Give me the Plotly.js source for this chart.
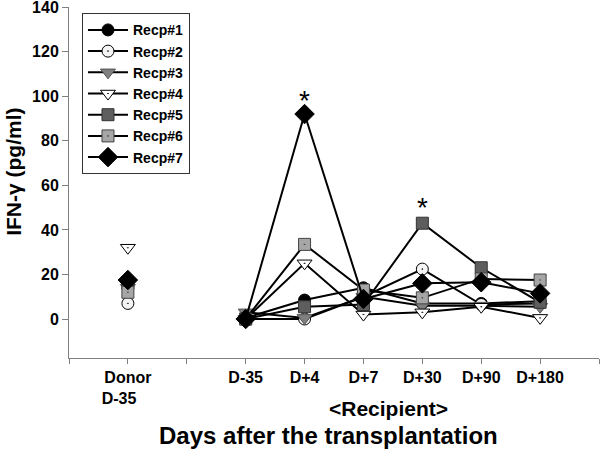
<!DOCTYPE html>
<html>
<head>
<meta charset="utf-8">
<script src="https://cdn.plot.ly/plotly-3.0.1.min.js"></script>
<style>
  html, body { margin: 0; padding: 0; background: white; }
  #chart { width: 600px; height: 449px; }
</style>
</head>
<body>
<div id="chart"></div>
<script>
// x positions on the axis: donor column, then recipient days
var donorPos = 1;
var recipPos = [3, 4, 5, 6, 7, 8];
var tickPos = [0, 1, 2, 3, 4, 5, 6, 7, 8, 9];
var tickText = ['', 'Donor<br>D-35&nbsp;&nbsp;&nbsp;&nbsp;', '', 'D-35', 'D+4', 'D+7', 'D+30', 'D+90', 'D+180', ''];

var names = ['Recp#1', 'Recp#2', 'Recp#3', 'Recp#4', 'Recp#5', 'Recp#6', 'Recp#7'];

// IFN-gamma (pg/ml), donor value at D-35
var donorVals = [17, 7, 14, 32, 16, 12, 17.5];

// recipient values at D-35, D+4, D+7, D+30, D+90, D+180
var recp1 = [0.5, 8.5, 14, 7, 7, 8];
var recp2 = [0, 0, 10, 22.4, 6.5, 7];
var recp3 = [3, 0.5, 10, 6, 6, 5.5];
var recp4 = [0, 25, 2, 3, 5.5, 0.5];
var recp5 = [0, 5.5, 6.5, 43, 23, 7.5];
var recp6 = [0, 33.5, 13, 9.5, 18, 17.5];
var recp7 = [0, 92, 9, 16, 16.5, 11.5];
var series = [recp1, recp2, recp3, recp4, recp5, recp6, recp7];

// significance marks
var starPos = [4, 6];
var starVals = [98, 50];

var styles = [
  {symbol: 'circle', color: '#000000', line: '#000000', size: 12},
  {symbol: 'circle-dot', color: '#f4f4f4', line: '#000000', size: 12},
  {symbol: 'triangle-down', color: '#7f7f7f', line: '#555555', size: 13},
  {symbol: 'triangle-down-dot', color: '#ffffff', line: '#000000', size: 13},
  {symbol: 'square', color: '#5e5e5e', line: '#333333', size: 12},
  {symbol: 'square-dot', color: '#a6a6a6', line: '#444444', size: 12},
  {symbol: 'diamond', color: '#000000', line: '#000000', size: 15}
];

var boldFont = {family: 'Liberation Sans, Arial, sans-serif', weight: 'bold', color: '#000'};

var traces = [];
for (var i = 0; i < names.length; i++) {
  var s = styles[i];
  traces.push({
    x: [donorPos, null].concat(recipPos),
    y: [donorVals[i], null].concat(series[i]),
    mode: 'lines+markers',
    name: names[i],
    connectgaps: false,
    line: {color: '#000', width: 2},
    marker: {symbol: s.symbol, size: s.size, color: s.color, line: {color: s.line, width: 1}}
  });
}

var annotations = [];
for (var j = 0; j < starPos.length; j++) {
  annotations.push({
    x: starPos[j], y: starVals[j], xref: 'x', yref: 'y',
    text: '*', showarrow: false, yanchor: 'middle',
    font: {family: 'Liberation Sans, Arial, sans-serif', size: 28, color: '#000'}
  });
}
annotations.push({
  x: 5.42, y: -0.145, xref: 'x', yref: 'paper',
  text: '&lt;Recipient&gt;', showarrow: false,
  xanchor: 'center', yanchor: 'middle',
  font: Object.assign({}, boldFont, {size: 21})
});
annotations.push({
  x: 4.40, y: -0.222, xref: 'x', yref: 'paper',
  text: 'Days after the transplantation', showarrow: false,
  xanchor: 'center', yanchor: 'middle',
  font: Object.assign({}, boldFont, {size: 24})
});
annotations.push({
  x: -0.104, y: 0.53, xref: 'paper', yref: 'paper',
  text: 'IFN-γ (pg/ml)', showarrow: false, textangle: -90,
  xanchor: 'center', yanchor: 'middle',
  font: Object.assign({}, boldFont, {size: 21})
});

var layout = {
  width: 600,
  height: 449,
  margin: {l: 69, r: 1, t: 7, b: 91},
  paper_bgcolor: 'white',
  plot_bgcolor: 'white',
  showlegend: true,
  legend: {
    x: 0.0245, y: 0.982, xanchor: 'left', yanchor: 'top',
    bgcolor: 'white', bordercolor: '#333', borderwidth: 1,
    font: Object.assign({}, boldFont, {size: 14}),
    itemsizing: 'trace', itemwidth: 40
  },
  xaxis: {
    range: [0, 9],
    tickvals: tickPos,
    ticktext: tickText,
    showline: true, linecolor: '#808080', linewidth: 1,
    ticks: 'outside', ticklen: 5, tickcolor: '#808080',
    showgrid: false, zeroline: false,
    tickfont: Object.assign({}, boldFont, {size: 16})
  },
  yaxis: {
    range: [-17.5, 140.05],
    tickvals: [0, 20, 40, 60, 80, 100, 120, 140],
    ticklabeloverflow: 'allow',
    showline: true, linecolor: '#808080', linewidth: 1,
    ticks: 'outside', ticklen: 6, tickcolor: '#808080',
    showgrid: false, zeroline: false,
    tickfont: Object.assign({}, boldFont, {size: 16})
  },
  annotations: annotations
};

Plotly.newPlot('chart', traces, layout, {displayModeBar: false, staticPlot: true});
</script>
</body>
</html>
